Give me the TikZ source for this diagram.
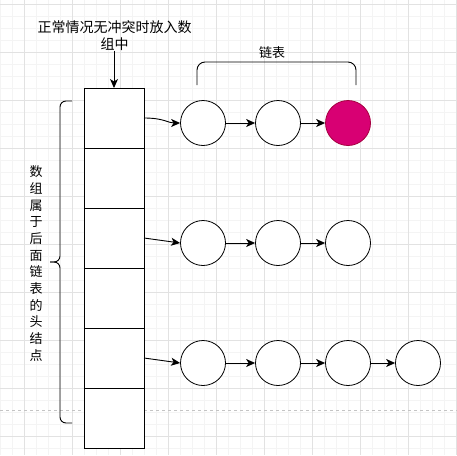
\documentclass[tikz,border=0pt]{standalone}
\usepackage{fontspec}
\newfontfamily\cjk{Noto Sans CJK SC}
\usetikzlibrary{arrows.meta,positioning}
\definecolor{headpink}{HTML}{D80073}
\definecolor{headedge}{HTML}{A50040}
\definecolor{gridmajor}{HTML}{E2E2E2}
\definecolor{gridminor}{HTML}{F4F4F4}
\definecolor{pageline}{HTML}{C4C4C4}

\begin{document}
\begin{tikzpicture}[
  x=1pt, y=-1pt,
  node distance=0pt,
  slot/.style={draw, line width=1pt, fill=white, minimum width=60pt, minimum height=60pt, inner sep=0pt, outer sep=0pt},
  entry/.style={draw, circle, line width=0.8pt, fill=white, minimum size=45pt, inner sep=0pt},
  txt/.style={font=\cjk\fontsize{13}{18}\selectfont, inner sep=0pt, align=center},
  arrow/.style={-{Stealth[length=9pt,width=8pt,inset=2.5pt]}, line width=0.9pt},
  bracket/.style={line width=0.9pt, rounded corners=6pt}
]
\useasboundingbox (0,0) rectangle (457,455);
\foreach \i in {0,...,38} \draw[gridminor, line width=0.6pt] (12*\i,0) -- (12*\i,455);
\foreach \j in {0,...,37} \draw[gridminor, line width=0.6pt] (0,4.5+12*\j) -- (457,4.5+12*\j);
\foreach \i in {0,...,9} \draw[gridmajor, line width=0.8pt] (24+48*\i,0) -- (24+48*\i,455);
\foreach \j in {0,...,9} \draw[gridmajor, line width=0.8pt] (0,4.5+48*\j) -- (457,4.5+48*\j);
\draw[pageline, line width=0.7pt, dash pattern=on 3pt off 3pt] (0,410) -- (457,410);

\node[slot] (slot1) at (114,118) {};
\node[slot, below=of slot1] (slot2) {};
\node[slot, below=of slot2] (slot3) {};
\node[slot, below=of slot3] (slot4) {};
\node[slot, below=of slot4] (slot5) {};
\node[slot, below=of slot5] (slot6) {};

\node[txt, font=\cjk\fontsize{14}{17}\selectfont] (note) at (114.5,35.5) {正常情况无冲突时放入数\\组中};
\draw[arrow] (note.south -| slot1.north) -- (slot1.north);

\node[entry] (n11) at (203,123) {};
\node[entry] (n12) at (278,123) {};
\node[entry, fill=headpink, draw=headedge] (n13) at (348,123) {};
\node[entry] (n21) at (203,243) {};
\node[entry] (n22) at (278,243) {};
\node[entry] (n23) at (348,243) {};
\node[entry] (n31) at (203,363) {};
\node[entry] (n32) at (278,363) {};
\node[entry] (n33) at (348,363) {};
\node[entry] (n34) at (418,363) {};

\draw[arrow] (slot1.east) .. controls +(20,0) and +(-12,0) .. (n11.west);
\draw[arrow] (slot3.east) -- (n21.west);
\draw[arrow] (slot5.east) -- (n31.west);
\draw[arrow] (n11) -- (n12);
\draw[arrow] (n12) -- (n13);
\draw[arrow] (n21) -- (n22);
\draw[arrow] (n22) -- (n23);
\draw[arrow] (n31) -- (n32);
\draw[arrow] (n32) -- (n33);
\draw[arrow] (n33) -- (n34);

\draw[bracket, rounded corners=8pt] (197,85) -- (197,62) -- (356,62) -- (356,85);
\node[txt] (listname) at (272,52.5) {链表};

\draw[bracket] (72,101) -- (60,101) -- (60,262) -- (50,262);
\draw[bracket] (72,423) -- (60,423) -- (60,262) -- (50,262);
\node[txt, font=\cjk\fontsize{13}{16.7}\selectfont] (headnote) at (36,263.5) {数\\组\\属\\于\\后\\面\\链\\表\\的\\头\\结\\点};
\end{tikzpicture}
\end{document}
